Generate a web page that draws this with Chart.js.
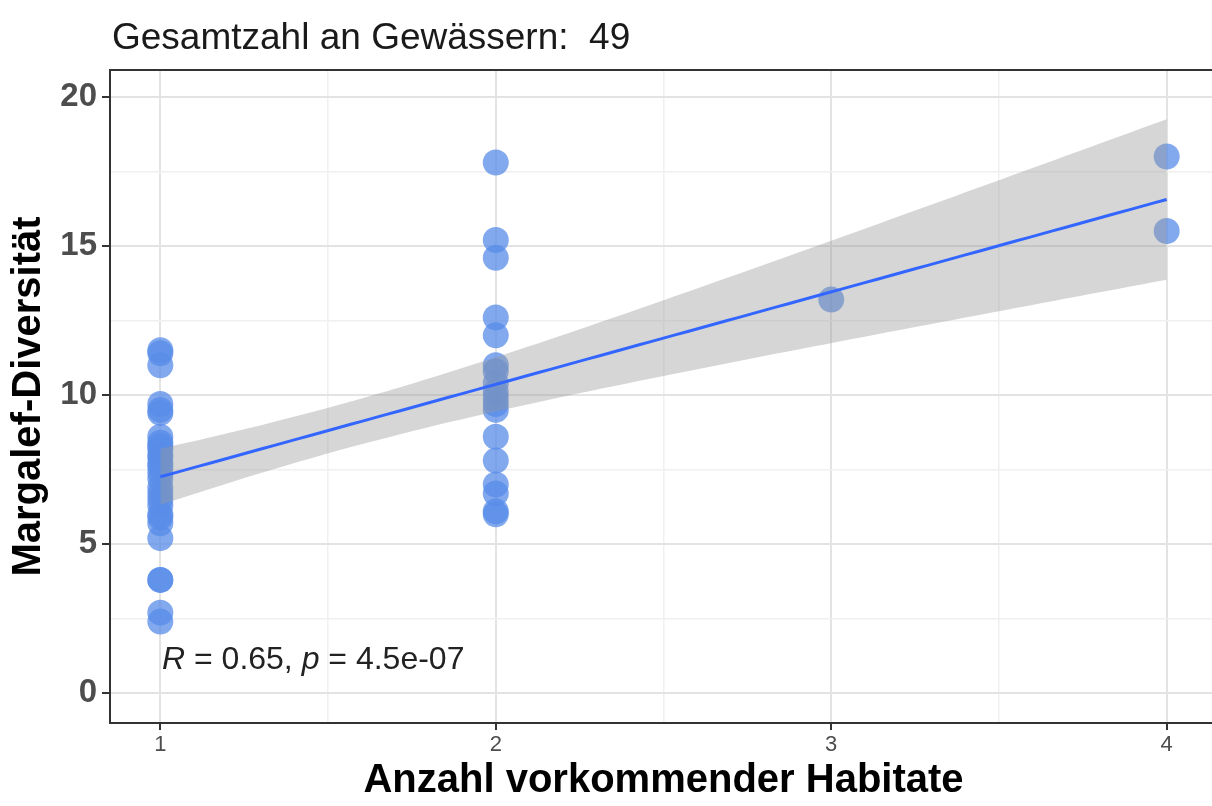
<!DOCTYPE html>
<html>
<head>
<meta charset="utf-8">
<title>Margalef-Diversität nach Anzahl vorkommender Habitate</title>
<script src="https://cdn.jsdelivr.net/npm/chart.js@4.4.1/dist/chart.umd.min.js"></script>
<style>
  html, body { margin: 0; padding: 0; overflow: hidden; background: #ffffff; }
  canvas { display: block; }
</style>
</head>
<body>
<canvas id="chart" width="1230" height="806"></canvas>
<script>
// Margalef diversity per water body, grouped by number of habitats present
const habitatCounts = [1, 2, 3, 4];
const diversityOneHabitat = [11.5, 11.4, 11.0, 9.7, 9.5, 9.4, 8.6, 8.4, 8.3, 8.2, 8.0, 7.9, 7.7, 7.6,
                             7.4, 7.2, 6.9, 6.7, 6.5, 6.3, 6.0, 5.9, 5.7, 5.2, 3.8, 3.8, 2.7, 2.4];
const diversityTwoHabitats = [17.8, 15.2, 14.6, 12.6, 12.0, 11.0, 10.8, 10.4, 10.1, 9.9, 9.7, 9.5,
                              8.6, 7.8, 7.0, 6.7, 6.1, 6.0];
const diversityThreeHabitats = [13.2];
const diversityFourHabitats = [18.0, 15.5];

const xTickValues = [1, 1.5, 2, 2.5, 3, 3.5, 4];
const yTickValues = [0, 2.5, 5, 7.5, 10, 12.5, 15, 17.5, 20];

const totalWaters = 49;
const statR = '0.65';
const statP = '4.5e-07';

const FONT = "'Liberation Sans', Arial, Helvetica, sans-serif";

// ---- build point list ----
const groups = [diversityOneHabitat, diversityTwoHabitats, diversityThreeHabitats, diversityFourHabitats];
const points = [];
groups.forEach((vals, i) => vals.forEach(v => points.push({ x: habitatCounts[i], y: v })));

// ---- linear model with 95% confidence band (like geom_smooth(method = "lm")) ----
const n = points.length;
const mx = points.reduce((s, p) => s + p.x, 0) / n;
const my = points.reduce((s, p) => s + p.y, 0) / n;
let sxx = 0, sxy = 0;
points.forEach(p => { sxx += (p.x - mx) ** 2; sxy += (p.x - mx) * (p.y - my); });
const slope = sxy / sxx;
const intercept = my - slope * mx;
let sse = 0;
points.forEach(p => { sse += (p.y - (intercept + slope * p.x)) ** 2; });
const df = n - 2;
const sigma = Math.sqrt(sse / df);
// Student t quantile (0.975) via Cornish-Fisher expansion
const z = 1.959964;
const tq = z + (z ** 3 + z) / (4 * df) + (5 * z ** 5 + 16 * z ** 3 + 3 * z) / (96 * df * df);

const xMin = Math.min(...points.map(p => p.x));
const xMax = Math.max(...points.map(p => p.x));
const fitLine = [], bandUpper = [], bandLower = [];
const steps = 80;
for (let i = 0; i <= steps; i++) {
  const x = xMin + (xMax - xMin) * i / steps;
  const yhat = intercept + slope * x;
  const se = sigma * Math.sqrt(1 / n + (x - mx) ** 2 / sxx);
  fitLine.push({ x, y: yhat });
  bandUpper.push({ x, y: yhat + tq * se });
  bandLower.push({ x, y: yhat - tq * se });
}

const isWhole = v => Math.abs(v - Math.round(v)) < 1e-9;
const isFive = v => Math.abs(v / 5 - Math.round(v / 5)) < 1e-9;

// ---- panel border, title and correlation label ----
const decorations = {
  id: 'decorations',
  afterDraw(chart) {
    const { ctx, chartArea: a } = chart;
    ctx.save();
    ctx.strokeStyle = '#333333';
    ctx.lineWidth = 2;
    ctx.beginPath();
    ctx.moveTo(a.left, a.bottom);
    ctx.lineTo(a.left, a.top);
    ctx.lineTo(a.right, a.top);
    ctx.lineTo(a.right, a.bottom);
    ctx.stroke();

    // title
    ctx.fillStyle = '#1a1a1a';
    ctx.textBaseline = 'middle';
    ctx.textAlign = 'left';
    ctx.font = `37px ${FONT}`;
    ctx.fillText(`Gesamtzahl an Gewässern:  ${totalWaters}`, 112, 39);

    // correlation label
    const parts = [
      ['italic', 'R'], ['normal', ` = ${statR}, `], ['italic', 'p'], ['normal', ` = ${statP}`]
    ];
    let x = 162;
    const y = chart.scales.y.getPixelForValue(1.1);
    ctx.fillStyle = '#222222';
    parts.forEach(([style, txt]) => {
      ctx.font = `${style} 32px ${FONT}`;
      ctx.fillText(txt, x, y);
      x += ctx.measureText(txt).width;
    });
    ctx.restore();
  }
};

new Chart(document.getElementById('chart'), {
  type: 'scatter',
  data: {
    datasets: [
      {
        type: 'scatter',
        data: points,
        backgroundColor: 'rgba(88, 140, 232, 0.75)',
        borderWidth: 0,
        pointRadius: 13,
        pointHoverRadius: 13,
        order: 3
      },
      {
        type: 'line',
        data: bandUpper,
        borderWidth: 0,
        pointRadius: 0,
        fill: false,
        order: 2
      },
      {
        type: 'line',
        data: bandLower,
        borderWidth: 0,
        pointRadius: 0,
        fill: '-1',
        backgroundColor: 'rgba(153, 153, 153, 0.4)',
        order: 2
      },
      {
        type: 'line',
        data: fitLine,
        borderColor: '#3366FF',
        borderWidth: 3,
        pointRadius: 0,
        fill: false,
        order: 1
      }
    ]
  },
  options: {
    responsive: false,
    animation: false,
    events: [],
    layout: { padding: { left: 0, top: 70, right: 10, bottom: 0 } },
    plugins: {
      legend: { display: false },
      tooltip: { enabled: false },
      title: { display: false }
    },
    scales: {
      x: {
        type: 'linear',
        min: 0.85,
        max: 4.15,
        afterBuildTicks: s => { s.ticks = xTickValues.map(v => ({ value: v })); },
        afterFit: s => { s.height = 83; },
        grid: {
          color: c => isWhole(c.tick.value) ? '#E3E3E3' : '#F0F0F0',
          lineWidth: c => isWhole(c.tick.value) ? 2 : 1.5,
          tickColor: c => isWhole(c.tick.value) ? '#333333' : 'rgba(0,0,0,0)',
          tickLength: 7
        },
        border: { display: true, color: '#333333', width: 2 },
        ticks: {
          autoSkip: false,
          maxRotation: 0,
          padding: 2,
          color: '#4D4D4D',
          font: { family: FONT, size: 22 },
          callback: v => isWhole(v) ? String(v) : ''
        },
        title: {
          display: true,
          text: 'Anzahl vorkommender Habitate',
          color: '#000000',
          font: { family: FONT, size: 40, weight: 'bold' },
          padding: { top: 0, bottom: 1 }
        }
      },
      y: {
        type: 'linear',
        min: -1.0,
        max: 20.9,
        afterBuildTicks: s => { s.ticks = yTickValues.map(v => ({ value: v })); },
        afterFit: s => { s.width = 110; },
        grid: {
          color: c => isFive(c.tick.value) ? '#E3E3E3' : '#F0F0F0',
          lineWidth: c => isFive(c.tick.value) ? 2 : 1.5,
          tickColor: c => isFive(c.tick.value) ? '#333333' : 'rgba(0,0,0,0)',
          tickLength: 8
        },
        border: { display: true, color: '#333333', width: 2 },
        ticks: {
          autoSkip: false,
          padding: 5,
          color: '#4D4D4D',
          font: { family: FONT, size: 33, weight: 'bold' },
          callback: v => isFive(v) ? String(v) : ''
        },
        title: {
          display: true,
          text: 'Margalef-Diversität',
          color: '#000000',
          font: { family: FONT, size: 40, weight: 'bold' },
          padding: { top: 5, bottom: 0 }
        }
      }
    }
  },
  plugins: [decorations]
});
</script>
</body>
</html>
